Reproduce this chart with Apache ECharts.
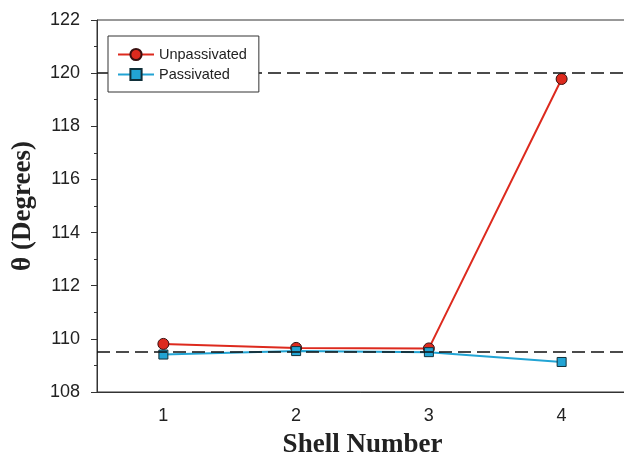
<!DOCTYPE html>
<html><head><meta charset="utf-8">
<script src="https://cdn.jsdelivr.net/npm/echarts@6/dist/echarts.min.js"></script>
<style>html,body{margin:0;padding:0;background:#fff;overflow:hidden;width:624px;height:455px}#c{width:624px;height:455px}</style>
</head><body><div id="c"></div>
<script>
const categories = ['1','2','3','4'];
const unpassivated = [109.81, 109.66, 109.64, 119.78];
const passivated = [109.41, 109.54, 109.50, 109.13];
const refLines = [120, 109.5];

const chart = echarts.init(document.getElementById('c'), null, {renderer:'canvas', width:624, height:455});
chart.setOption({
  animation:false,
  backgroundColor:'#fff',
  grid:{left:97, top:20, width:531, height:372, outerBoundsMode:'none', containLabel:false, show:true, borderColor:'#333', borderWidth:1, backgroundColor:'transparent'},
  legend:{
    left:108, top:36, orient:'vertical', itemGap:5, itemWidth:36, itemHeight:14, z:10,
    padding:[11,12,10,9], borderColor:'#333', borderWidth:1, backgroundColor:'#fff',
    textStyle:{fontFamily:'Liberation Sans, Arial', fontSize:14.5, color:'#222'},
    data:['Unpassivated','Passivated']
  },
  xAxis:{
    type:'category', data:categories, boundaryGap:true,
    name:'Shell Number', nameLocation:'middle', nameGap:40,
    nameTextStyle:{fontFamily:'Liberation Serif, Times New Roman', fontWeight:'bold', fontSize:27, color:'#222'},
    axisLine:{lineStyle:{color:'#333', width:1}},
    axisTick:{alignWithLabel:true, length:6, lineStyle:{color:'#333'}},
    axisLabel:{margin:15, fontFamily:'Liberation Sans, Arial', fontSize:18, color:'#222'},
    splitLine:{show:false}
  },
  yAxis:{
    type:'value', min:108, max:122, interval:2,
    name:'θ (Degrees)', nameLocation:'middle', nameGap:60, nameRotate:90,
    nameTextStyle:{fontFamily:'Liberation Serif, Times New Roman', fontWeight:'bold', fontSize:27, color:'#222'},
    axisLine:{show:true, lineStyle:{color:'#333', width:1}},
    axisTick:{show:true, length:6, lineStyle:{color:'#333'}},
    minorTick:{show:true, splitNumber:2, length:3, lineStyle:{color:'#333'}},
    axisLabel:{margin:17, fontFamily:'Liberation Sans, Arial', fontSize:18, color:'#222'},
    splitLine:{show:false}
  },
  series:[
    {
      name:'Unpassivated', type:'line', data:unpassivated,
      symbol:'circle', symbolSize:11,
      lineStyle:{color:'#dd2a1e', width:2},
      itemStyle:{color:'#dd2a1e', borderColor:'#3a1010', borderWidth:1},
      z:3,
      markLine:{
        silent:true, symbol:['none','none'], label:{show:false},
        lineStyle:{color:'#111', type:[13,6], width:1.6},
        data: refLines.map(v=>({yAxis:v}))
      }
    },
    {
      name:'Passivated', type:'line', data:passivated,
      symbol:'rect', symbolSize:9,
      lineStyle:{color:'#22a4d4', width:2},
      itemStyle:{color:'#22a4d4', borderColor:'#10303a', borderWidth:1},
      z:4
    }
  ]
});
</script></body></html>
